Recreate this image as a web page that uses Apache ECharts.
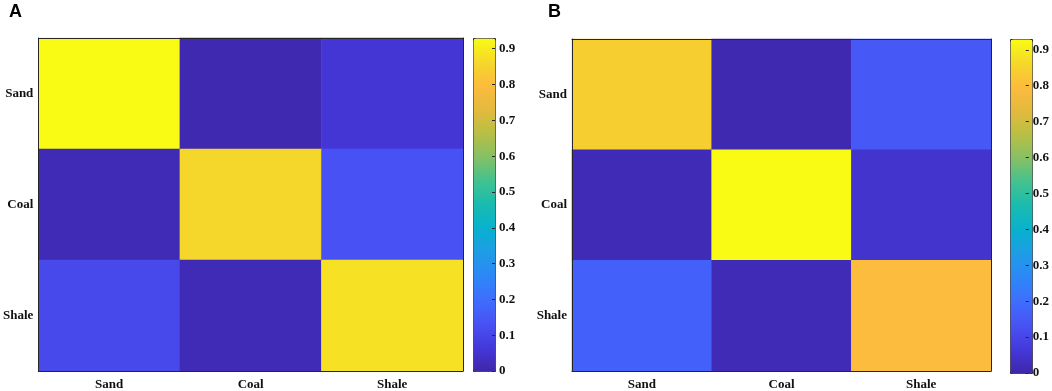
<!DOCTYPE html>
<html>
<head>
<meta charset="utf-8">
<script src="https://cdn.jsdelivr.net/npm/echarts@6/dist/echarts.min.js"></script>
<style>
  html, body { margin: 0; padding: 0; background: #fff; }
  #chart { width: 1052px; height: 391px; }
</style>
</head>
<body>
<div id="chart"></div>
<script>
// class names (rows = actual, columns = predicted)
const categories = ['Sand', 'Coal', 'Shale'];
// panel A matrix, one row per class
const valuesA = [
  [0.93, 0.01, 0.06],
  [0.02, 0.86, 0.13],
  [0.11, 0.02, 0.88]
];
// panel B matrix
const valuesB = [
  [0.84, 0.01, 0.15],
  [0.02, 0.93, 0.05],
  [0.17, 0.02, 0.80]
];
const colorMin = 0;
const colorMax = 0.93;
const colorStep = 0.1;

// parula-like colormap
const parula = ['#3e26a8', '#4438da', '#4852f4', '#3f6dfe', '#2d87f7', '#1f9ce6',
  '#08b1cf', '#19bbb0', '#41c290', '#85c065', '#b8bf44', '#e3ba3e', '#fcbb3e',
  '#f5d829', '#f9fb15'];

function toCells(m) {
  const out = [];
  m.forEach((row, i) => row.forEach((v, j) => out.push([j, i, v])));
  return out;
}

const lineColor = '#262626';
const labelFont = { fontFamily: 'Liberation Serif', fontWeight: 'bold', fontSize: 13, color: '#111' };

const panels = [
  { grid: { left: 36, top: 38, width: 427, height: 333 }, bar: { left: 473, top: 38, width: 22, height: 333 }, data: valuesA },
  { grid: { left: 572, top: 39, width: 419, height: 333 }, bar: { left: 1010, top: 39, width: 22, height: 334 }, data: valuesB }
];

const grid = [], xAxis = [], yAxis = [], series = [], visualMap = [];
panels.forEach((p, k) => {
  const gi = grid.length;
  grid.push(p.grid);
  // bottom + top
  xAxis.push({
    type: 'category', gridIndex: gi, data: categories, position: 'bottom', z: 10,
    axisLine: { lineStyle: { color: lineColor, width: 1 } },
    axisTick: { inside: true, alignWithLabel: true, length: 4, lineStyle: { color: lineColor } },
    axisLabel: Object.assign({ margin: 7 }, labelFont),
    splitLine: { show: false }
  });
  xAxis.push({
    type: 'category', gridIndex: gi, data: categories, position: 'top', z: 10,
    axisLine: { lineStyle: { color: lineColor, width: 1 } },
    axisTick: { inside: true, alignWithLabel: true, length: 4, lineStyle: { color: lineColor } },
    axisLabel: { show: false }, splitLine: { show: false }
  });
  yAxis.push({
    type: 'category', gridIndex: gi, data: categories, inverse: true, position: 'left', z: 10,
    axisLine: { lineStyle: { color: lineColor, width: 1 } },
    axisTick: { inside: true, alignWithLabel: true, length: 4, lineStyle: { color: lineColor } },
    axisLabel: Object.assign({ margin: 5 }, labelFont),
    splitLine: { show: false }
  });
  yAxis.push({
    type: 'category', gridIndex: gi, data: categories, inverse: true, position: 'right', z: 10,
    axisLine: { lineStyle: { color: lineColor, width: 1 } },
    axisTick: { inside: true, alignWithLabel: true, length: 4, lineStyle: { color: lineColor } },
    axisLabel: { show: false }, splitLine: { show: false }
  });
  const si = series.length;
  series.push({
    type: 'heatmap',
    xAxisIndex: xAxis.length - 2,
    yAxisIndex: yAxis.length - 2,
    data: toCells(p.data),
    itemStyle: { borderWidth: 0 },
    emphasis: { disabled: true },
    label: { show: false }
  });
  visualMap.push({
    type: 'continuous',
    seriesIndex: si,
    min: colorMin, max: colorMax,
    calculable: false,
    hoverLink: false,
    orient: 'vertical',
    left: p.bar.left, top: p.bar.top,
    itemWidth: p.bar.width, itemHeight: p.bar.height,
    padding: 0,
    borderColor: lineColor, borderWidth: 1,
    text: null,
    inRange: { color: parula }
  });
  // colour bar tick axis
  const bi = grid.length;
  grid.push(p.bar);
  xAxis.push({ type: 'value', gridIndex: bi, show: false, min: 0, max: 1 });
  yAxis.push({
    type: 'value', gridIndex: bi, min: colorMin, max: colorMax, interval: colorStep,
    position: 'right', z: 10,
    axisLine: { show: false, onZero: false },
    axisTick: { inside: true, length: 3, lineStyle: { color: lineColor } },
    axisLabel: Object.assign({ margin: 4, showMaxLabel: false }, labelFont),
    splitLine: { show: false }
  });
});

const chart = echarts.init(document.getElementById('chart'));
chart.setOption({
  animation: false,
  title: [
    { text: 'A', left: 9, top: 3, padding: 0, textStyle: { fontFamily: 'Liberation Sans', fontWeight: 'bold', fontSize: 18, color: '#000' } },
    { text: 'B', left: 548, top: 3, padding: 0, textStyle: { fontFamily: 'Liberation Sans', fontWeight: 'bold', fontSize: 18, color: '#000' } }
  ],
  grid: grid,
  xAxis: xAxis,
  yAxis: yAxis,
  visualMap: visualMap,
  series: series
});
</script>
</body>
</html>
